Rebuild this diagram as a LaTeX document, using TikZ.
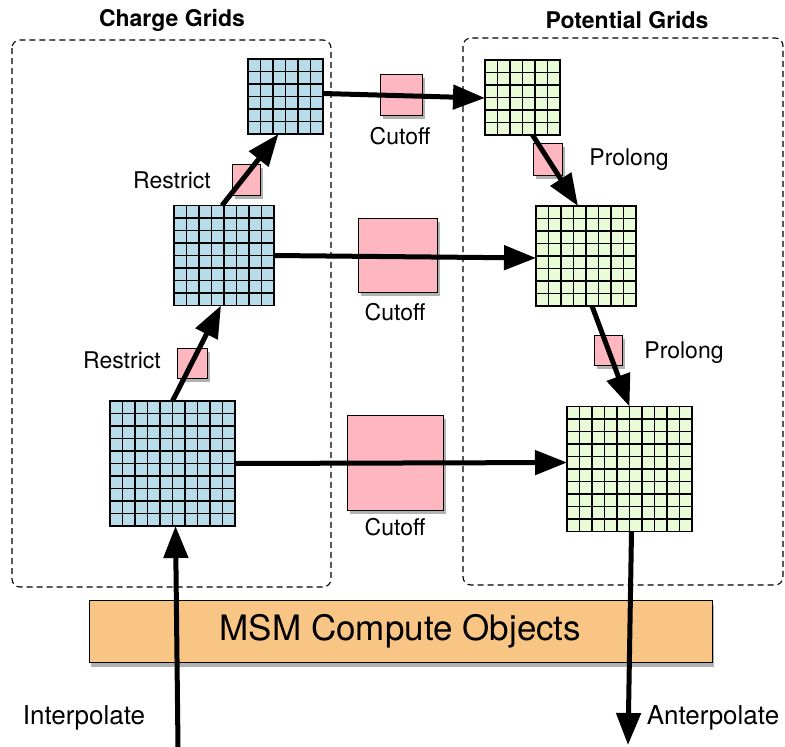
\documentclass[tikz,border=0pt]{standalone}
\usepackage{fontspec}
\setmainfont{TeX Gyre Heros}
\usetikzlibrary{arrows.meta,shadows,calc}
\definecolor{cblue}{HTML}{B8DCE9}
\definecolor{cgreen}{HTML}{EAFBD8}
\definecolor{cpink}{HTML}{FFB7BF}
\definecolor{corange}{HTML}{F9C585}
% #1 name, #2 style, #3 cx, #4 cy, #5 cells
\newcommand\mygridnode[5]{%
  \node[#2, minimum size=#5*12.5pt] (#1) at (#3,#4) {};
  \pgfmathsetmacro\gxa{#3-#5*6.25}\pgfmathsetmacro\gxb{#3+#5*6.25}%
  \pgfmathsetmacro\gya{#4-#5*6.25}\pgfmathsetmacro\gyb{#4+#5*6.25}%
  \pgfmathtruncatemacro\gnm{#5-1}%
  \foreach \k in {1,...,\gnm}{%
    \draw[gridline] (\gxa+\k*12.5,\gya) -- (\gxa+\k*12.5,\gyb);
    \draw[gridline] (\gxa,\gya+\k*12.5) -- (\gxb,\gya+\k*12.5);
  }}
\begin{document}
\begin{tikzpicture}[x=1pt,y=-1pt,
  bgrid/.style={draw, line width=1.7pt, fill=cblue, inner sep=0pt, outer sep=0pt},
  ggrid/.style={draw, line width=1.7pt, fill=cgreen, inner sep=0pt, outer sep=0pt},
  gridline/.style={line width=1.7pt},
  pinkbox/.style={draw, line width=0.8pt, fill=cpink, inner sep=0pt,
    drop shadow={shadow xshift=3pt, shadow yshift=-4pt, fill=black, opacity=0.3}},
  region/.style={draw, line width=1.1pt, dash pattern=on 6pt off 4pt, rounded corners=8pt},
  lbl/.style={font=\fontsize{23}{27}\selectfont, inner sep=0pt},
  biglbl/.style={font=\fontsize{26}{30}\selectfont, inner sep=0pt},
  ttl/.style={font=\bfseries\fontsize{23}{27}\selectfont, inner sep=0pt},
  arr/.style={line width=5pt, -{Triangle[length=32pt,width=24pt]}},
  msm/.style={draw, line width=0.8pt, fill=corange, inner sep=0pt,
    drop shadow={shadow xshift=2pt, shadow yshift=-5pt, fill=black, opacity=0.3},
    font=\fontsize{35}{40}\selectfont}]
\useasboundingbox (0,0) rectangle (785,747);

% regions
\draw[region] (12,40) rectangle (331,587);
\draw[region] (463,38) rectangle (783,585);
\node[ttl] (tCharge) at (172,20) {Charge Grids};
\node[ttl] (tPot) at (627,20) {Potential Grids};

% MSM box
\node[msm, minimum width=623pt, minimum height=62pt] (msm) at (400.5,631) {MSM Compute Objects};

% pink boxes
\node[pinkbox, minimum width=42pt, minimum height=41pt] (pTop) at (401,94.5) {};
\node[pinkbox, minimum width=79pt, minimum height=74pt] (pMid) at (397.5,255) {};
\node[pinkbox, minimum width=96pt, minimum height=95pt] (pBot) at (395,462.5) {};
\node[pinkbox, minimum width=28pt, minimum height=31pt] (rTop) at (246,179.5) {};
\node[pinkbox, minimum width=30pt, minimum height=30pt] (rBot) at (192,363) {};
\node[pinkbox, minimum width=29pt, minimum height=32pt] (prTop) at (547.5,159) {};
\node[pinkbox, minimum width=28pt, minimum height=30pt] (prBot) at (608,350) {};

% grids
\mygridnode{gL1}{bgrid}{285.5}{96.5}{6}
\mygridnode{gL2}{bgrid}{224}{255.5}{8}
\mygridnode{gL3}{bgrid}{172.5}{463.5}{10}
\mygridnode{gR1}{ggrid}{522.5}{97.5}{6}
\mygridnode{gR2}{ggrid}{586}{256}{8}
\mygridnode{gR3}{ggrid}{629.5}{469}{10}

% labels
\node[lbl] (lCut1) at (400,136) {Cutoff};
\node[lbl] (lCut2) at (395,312) {Cutoff};
\node[lbl] (lCut3) at (395,527) {Cutoff};
\node[lbl] (lRes1) at (172,180) {Restrict};
\node[lbl] (lRes2) at (122,360) {Restrict};
\node[lbl] (lPro1) at (629,160) {Prolong};
\node[lbl] (lPro2) at (684,353) {Prolong};
\node[biglbl] (lInt) at (84,718) {Interpolate};
\node[biglbl] (lAnt) at (713,718) {Anterpolate};

% arrows
\coordinate (iStart) at (178,747);
\coordinate (aEnd) at (628,745);
\draw[arr] ($(gL1.east)+(0,-3)$) -- ($(gR1.west)+(0,0.5)$);
\draw[arr] (gL2.east) -- ($(gR2.west)+(0,2)$);
\draw[arr] (gL3.east) -- ($(gR3.west)+(0,-6.5)$);
\draw[arr] ($(gL2.north)+(-2,0)$) -- ($(gL1.south)+(-7,0)$);
\draw[arr] (gL3.north) -- ($(gL2.south)+(-3,0)$);
\draw[arr] ($(gR1.south)+(10,0)$) -- ($(gR2.north)+(-8,0)$);
\draw[arr] ($(gR2.south)+(6,0)$) -- (gR3.north);
\draw[arr] (iStart) -- ($(gL3.south)+(3,0)$);
\draw[arr] ($(gR3.south)+(2,0)$) -- (aEnd);
\end{tikzpicture}
\end{document}
